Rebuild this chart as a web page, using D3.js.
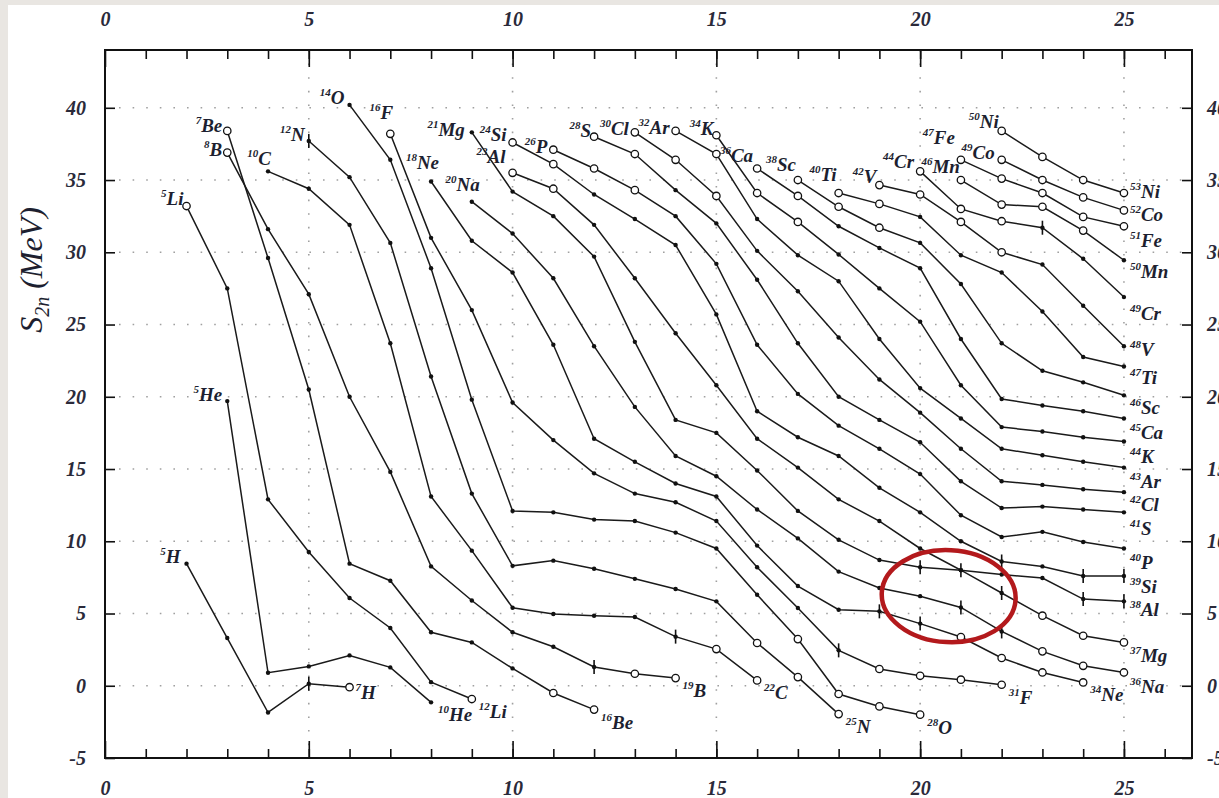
<!DOCTYPE html>
<meta charset="utf-8">
<head>
    <title>S2n isotopic chains</title>
    <script src="https://cdn.jsdelivr.net/npm/d3@7"></script>
</head>

<style>
    body { margin: 0; background: #e9e6e2; }
    svg { display: block; }
    text { font-family: "Liberation Serif", "DejaVu Serif", serif; font-style: italic; fill: #1d1f30; }
    .chain { fill: none; stroke: #1a1a1a; stroke-width: 1.5; }
    .grid line { stroke: #a0a0a0; stroke-width: 1.6; stroke-dasharray: 1.6, 12; }
    .axis path { display: none; }
    .axis line { stroke: #111; stroke-width: 1.6; }
    .axis text { font-size: 20px; font-weight: bold; fill: #2a2a3a; }
</style>

<svg id="chart"></svg>

<script>
    // one chain per element, S2n in MeV from first neutron number on
    var symbols = ['H', 'He', 'Li', 'Be', 'B', 'C', 'N', 'O', 'F', 'Ne', 'Na', 'Mg', 'Al', 'Si',
        'P', 'S', 'Cl', 'Ar', 'K', 'Ca', 'Sc', 'Ti', 'V', 'Cr', 'Mn', 'Fe', 'Co', 'Ni'];
    var firstN = [2, 3, 2, 3, 3, 4, 5, 6, 7, 8, 9, 9, 10, 10, 11, 12, 13, 14, 15, 16, 17, 18, 19, 20, 21, 21, 22, 22];
    var startMass = [5, 5, 5, 7, 8, 10, 12, 14, 16, 18, 20, 21, 23, 24, 26, 28, 30, 32, 34, 36, 38, 40, 42, 44, 46, 47, 49, 50];
    var endMass = [7, 10, 12, 16, 19, 22, 25, 28, 31, 34, 36, 37, 38, 39, 40, 41, 42, 43, 44, 45, 46, 47, 48, 49, 50, 51, 52, 53];

    var s2n = [
        [8.45, 3.3, -1.85, 0.14, -0.1],
        [19.7, 0.9, 1.34, 2.1, 1.27, -1.15],
        [33.2, 27.5, 12.9, 9.26, 6.07, 4.0, 0.25, -0.92],
        [38.4, 29.6, 20.5, 8.45, 7.27, 3.7, 3.0, 1.2, -0.5, -1.65],
        [36.9, 31.6, 27.1, 20.0, 14.8, 8.26, 5.9, 3.7, 2.7, 1.3, 0.83, 0.53],
        [35.6, 34.4, 31.9, 23.7, 13.1, 9.35, 5.4, 4.97, 4.85, 4.76, 3.4, 2.54, 0.37],
        [37.7, 35.2, 30.65, 21.4, 13.3, 8.3, 8.66, 8.1, 7.4, 6.7, 5.84, 2.96, 0.6, -1.96],
        [40.2, 36.4, 28.9, 19.8, 12.1, 12.0, 11.5, 11.4, 10.6, 9.5, 6.3, 3.23, -0.57, -1.43, -2.0],
        [38.2, 31.0, 26.0, 19.6, 17.0, 14.7, 13.3, 12.7, 11.4, 8.2, 5.38, 2.45, 1.16, 0.69, 0.42, 0.07],
        [34.9, 30.8, 28.6, 23.6, 17.1, 15.5, 14.0, 13.1, 9.7, 6.9, 5.26, 5.15, 4.3, 3.37, 1.92, 0.92, 0.23],
        [33.5, 31.3, 28.2, 23.5, 19.3, 15.9, 14.5, 12.2, 10.2, 7.9, 6.77, 6.2, 5.42, 3.76, 2.38, 1.38, 0.92],
        [38.3, 34.2, 32.5, 29.7, 23.8, 18.4, 17.5, 14.9, 12.1, 10.1, 8.7, 8.2, 8.0, 6.42, 4.85, 3.46, 3.0],
        [35.5, 34.4, 31.9, 28.2, 24.4, 20.8, 17.1, 15.1, 12.9, 11.4, 9.5, 8.0, 7.7, 7.46, 6.0, 5.84],
        [37.6, 36.1, 34.0, 32.3, 30.5, 25.7, 19.0, 17.2, 15.9, 13.7, 12.0, 10.0, 8.6, 8.26, 7.6, 7.6],
        [37.1, 35.8, 34.3, 32.5, 29.2, 23.6, 20.2, 18.0, 16.4, 14.65, 11.8, 10.3, 10.65, 9.95, 9.5],
        [38.0, 36.8, 34.3, 32.0, 28.1, 23.7, 20.0, 18.4, 16.85, 14.15, 12.3, 12.4, 12.2, 12.0],
        [38.3, 36.4, 33.9, 30.1, 27.3, 24.1, 21.2, 18.9, 16.4, 14.15, 13.9, 13.6, 13.4],
        [38.4, 36.8, 32.3, 29.8, 28.0, 24.0, 20.6, 18.5, 16.4, 15.95, 15.5, 15.1],
        [38.1, 34.1, 32.1, 29.85, 27.5, 25.2, 20.8, 17.9, 17.6, 17.2, 16.9],
        [35.8, 33.9, 31.8, 30.3, 28.9, 24.0, 19.85, 19.4, 19.0, 18.5],
        [35.0, 33.15, 31.7, 30.65, 27.8, 23.7, 21.8, 21.0, 20.1],
        [34.1, 33.35, 32.45, 29.8, 28.6, 25.9, 22.75, 22.1],
        [34.65, 34.0, 32.1, 30.0, 29.15, 26.3, 23.5],
        [35.6, 33.0, 32.15, 31.7, 29.55, 26.9],
        [35.0, 33.3, 33.15, 31.5, 29.45],
        [36.4, 35.1, 34.1, 32.45, 31.8],
        [36.4, 35.0, 33.8, 32.9],
        [38.4, 36.6, 35.0, 34.1]
    ];

    // o = open circle, . = dot, | = dot with error bar
    var marks = ['...|o', '......', 'o......o', 'o.......oo', 'o........|oo', '..........|oo',
        '|..........ooo', '...........oooo', 'o..........|oooo', '...........||oooo',
        '............||ooo', '...........|.|ooo', 'oo.........|..||', 'oo..........|.||',
        'ooo............', 'oo............', 'ooo..........', 'oo..........', 'ooo........',
        'oo........', 'ooo......', 'oo......', 'oooo...', 'ooo|..', 'oooo.', 'ooooo', 'oooo', 'oooo'];

    var xTicks = [0, 5, 10, 15, 20, 25];
    var yTicks = [-5, 0, 5, 10, 15, 20, 25, 30, 35, 40];

    // label nudges (px) relative to the first / last point
    var startNudge = {H: [-6, -1], Li: [-3, -1], Be: [-5, 1], B: [-5, 3], C: [3, -6], N: [-4, 0], O: [-5, -1],
        F: [3, -15], Ne: [8, -12], Na: [8, -11], Mg: [-7, 4], Al: [-7, -10], Si: [-6, -1], P: [-6, 3],
        S: [-3, 0], Cl: [-6, 3], Ar: [-6, 3], K: [-3, 0], Ca: [-4, -6], Sc: [-2, -9], Ti: [-2, -12],
        V: [-3, -2], Cr: [-6, -3], Mn: [-1, -7], Fe: [-6, -16], Co: [-7, -1], Ni: [-3, -3]};
    var endNudge = {H: [6, 12], Ni: [6, 5], Co: [6, 11], Fe: [6, 21], Mn: [6, 18], Cr: [6, 23], V: [6, 10],
        Ti: [6, 18], Sc: [6, 19], Ca: [6, 21], K: [6, 21], Ar: [6, 20], Cl: [6, 19], S: [6, 23], P: [6, 21],
        Si: [6, 17], Al: [6, 15], Mg: [6, 20], Na: [6, 21]};

    var vWidth = 1219, vHeight = 798;
    var x = d3.scaleLinear().domain([0, 26.67]).range([105, 1192]);
    var y = d3.scaleLinear().domain([-5, 44]).range([758, 50]);

    var svg = d3.select('#chart').attr('width', vWidth).attr('height', vHeight);
    svg.append('rect').attr('x', 8).attr('y', 5).attr('width', vWidth).attr('height', vHeight).attr('fill', '#fff');

    // dotted grid
    var grid = svg.append('g').attr('class', 'grid');
    grid.selectAll('.h').data(yTicks.filter(function (d) { return d > -5; })).enter().append('line')
        .attr('x1', x(0) + 14).attr('x2', x(26.67)).attr('y1', y).attr('y2', y);
    grid.selectAll('.v').data(xTicks.filter(function (d) { return d > 0; })).enter().append('line')
        .attr('y1', y(44)).attr('y2', y(-5)).attr('x1', x).attr('x2', x);

    // axes with inward ticks
    var minor = d3.range(1, 27);
    svg.append('g').attr('class', 'axis').attr('transform', 'translate(0,' + y(-5) + ')')
        .call(d3.axisBottom(x).tickValues(minor).tickSize(-9).tickFormat(''));
    svg.append('g').attr('class', 'axis').attr('transform', 'translate(0,' + y(-5) + ')')
        .call(d3.axisBottom(x).tickValues(xTicks).tickSize(-17).tickPadding(23).tickFormat(d3.format('d')));
    svg.append('g').attr('class', 'axis').attr('transform', 'translate(0,' + y(44) + ')')
        .call(d3.axisTop(x).tickValues(minor).tickSize(-9).tickFormat(''));
    svg.append('g').attr('class', 'axis').attr('transform', 'translate(0,' + y(44) + ')')
        .call(d3.axisTop(x).tickValues(xTicks).tickSize(-17).tickPadding(24).tickFormat(d3.format('d')));
    svg.append('g').attr('class', 'axis').attr('transform', 'translate(' + x(0) + ',0)')
        .call(d3.axisLeft(y).tickValues(yTicks).tickSize(-10).tickPadding(19));
    svg.append('g').attr('class', 'axis').attr('transform', 'translate(' + x(26.67) + ',0)')
        .call(d3.axisRight(y).tickValues(yTicks).tickSize(-10).tickPadding(15));
    svg.selectAll('.axis text').text(function () { return this.textContent.replace('\u2212', '-'); });

    svg.append('rect').attr('x', x(0)).attr('y', y(44)).attr('width', x(26.67) - x(0)).attr('height', y(-5) - y(44))
        .attr('fill', 'none').attr('stroke', '#111').attr('stroke-width', 2);

    // axis title
    var title = svg.append('text').attr('transform', 'translate(42,270) rotate(-90)')
        .attr('text-anchor', 'middle').attr('font-size', 32);
    title.append('tspan').text('S');
    title.append('tspan').attr('font-size', 20).attr('dy', 7).text('2n');
    title.append('tspan').attr('dy', -7).text(' (MeV)');

    var chains = symbols.map(function (sym, i) {
        return {sym: sym, start: startMass[i], end: endMass[i],
            pts: s2n[i].map(function (s, j) { return {n: firstN[i] + j, s: s, k: marks[i][j]}; })};
    });

    var line = d3.line().x(function (d) { return x(d.n); }).y(function (d) { return y(d.s); });
    svg.append('g').selectAll('path').data(chains).enter().append('path')
        .attr('class', 'chain').attr('d', function (d) { return line(d.pts); });

    var all = [];
    chains.forEach(function (c) { all = all.concat(c.pts); });
    var mk = svg.append('g');
    mk.selectAll('.bar').data(all.filter(function (d) { return d.k === '|'; })).enter().append('line')
        .attr('x1', function (d) { return x(d.n); }).attr('x2', function (d) { return x(d.n); })
        .attr('y1', function (d) { return y(d.s) - 7; }).attr('y2', function (d) { return y(d.s) + 7; })
        .attr('stroke', '#111').attr('stroke-width', 1.6);
    mk.selectAll('.pt').data(all).enter().append('circle')
        .attr('cx', function (d) { return x(d.n); }).attr('cy', function (d) { return y(d.s); })
        .attr('r', function (d) { return d.k === 'o' ? 3.7 : 2.2; })
        .attr('fill', function (d) { return d.k === 'o' ? '#fff' : '#111'; })
        .attr('stroke', '#111').attr('stroke-width', function (d) { return d.k === 'o' ? 1.3 : 0; });

    function isoLabel(g, px, py, mass, sym, anchor) {
        var t = g.append('text').attr('x', px).attr('y', py).attr('text-anchor', anchor)
            .attr('font-weight', 'bold');
        t.append('tspan').attr('font-size', 11).attr('dy', -8).text(mass);
        t.append('tspan').attr('font-size', 19).attr('dy', 8).text(sym);
    }

    var lab = svg.append('g');
    chains.forEach(function (c) {
        var p0 = c.pts[0], p1 = c.pts[c.pts.length - 1];
        var a = startNudge[c.sym] || [-5, 0];
        var b = endNudge[c.sym] || [7, 19];
        isoLabel(lab, x(p0.n) + a[0], y(p0.s) + a[1], c.start, c.sym, 'end');
        isoLabel(lab, x(p1.n) + b[0], y(p1.s) + b[1], c.end, c.sym, 'start');
    });

    // highlight ring
    svg.append('ellipse').attr('cx', x(20.7)).attr('cy', y(6.2)).attr('rx', 67).attr('ry', 46)
        .attr('fill', 'none').attr('stroke', '#b3191c').attr('stroke-width', 4.5)
        .attr('transform', 'rotate(3,' + x(20.7) + ',' + y(6.2) + ')');
</script>
